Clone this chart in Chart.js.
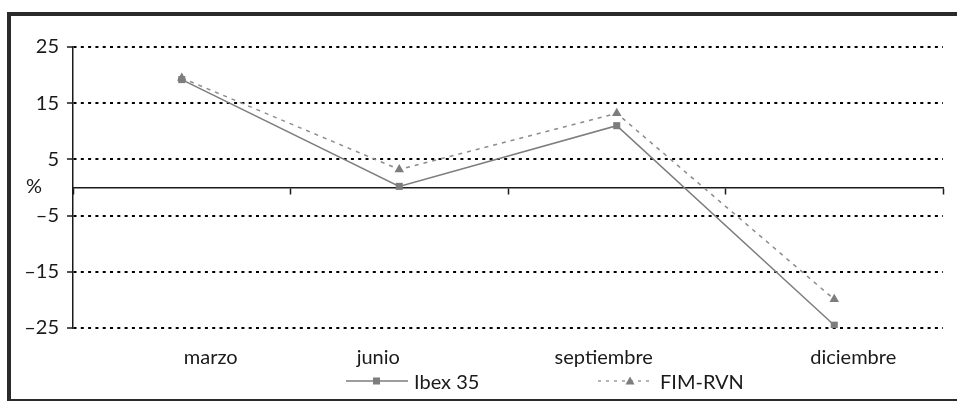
<!DOCTYPE html>
<html>
<head>
<meta charset="utf-8">
<script src="https://cdn.jsdelivr.net/npm/chart.js@4.4.1/dist/chart.umd.min.js"></script>
<style>
  html, body { margin: 0; padding: 0; background: #fff; }
  body { width: 957px; height: 401px; overflow: hidden; position: relative; }
  /* framed box, open on the right side */
  .frame {
    position: absolute; left: 7px; top: 12px;
    width: 960px; height: 383px;
    border: 4px solid #2b2b2b; border-right: none;
  }
  .frame canvas#chart { position: absolute; left: 0; top: 0; }
  .legend { position: absolute; top: 353px; left: 0; }
  .legend .item {
    position: absolute; top: 0; display: flex; align-items: center;
    font: 20px Lato, "Open Sans", sans-serif; color: #1a1a1a; white-space: nowrap;
  }
  .legend .item canvas { margin-right: 6px; }
</style>
</head>
<body>
<div class="frame">
  <canvas id="chart" width="946" height="383"></canvas>
  <div class="legend" id="legend"></div>
</div>
<script>
// quarterly returns, %
const months = ['marzo', 'junio', 'septiembre', 'diciembre'];
const ibex35 = [19.2, 0.2, 11.0, -24.5];
const fimRvn = [19.5, 3.2, 13.2, -19.9];
const yTicks = [-25, -15, -5, 5, 15, 25];
const seriesNames = ['Ibex 35', 'FIM-RVN'];

const FONT = 'Lato, "Open Sans", sans-serif';
const INK = '#1a1a1a';
const GREY = '#7d7d7d';

// the month names sit a little off the category centres
const monthShift = [29, -21, -13, 19];
// where each legend entry starts, inside the frame
const legendLeft = [335, 587];

// small line + marker swatch for the legend
function legendIcon(dashed) {
  const c = document.createElement('canvas');
  c.width = dashed ? 56 : 62; c.height = 12;
  const g = c.getContext('2d');
  g.strokeStyle = dashed ? '#9a9a9a' : GREY;
  g.lineWidth = 1.5;
  if (dashed) g.setLineDash([3, 5]);
  g.beginPath();
  g.moveTo(0, 6);
  g.lineTo(c.width, 6);
  g.stroke();
  g.fillStyle = GREY;
  if (!dashed) {
    g.fillRect(27, 2.5, 7, 7);
  } else {
    g.beginPath();
    g.moveTo(32, 1.5); g.lineTo(36.5, 9.5); g.lineTo(27.5, 9.5);
    g.closePath(); g.fill();
  }
  return c;
}

function buildLegend() {
  const box = document.getElementById('legend');
  seriesNames.forEach(function(name, i) {
    const item = document.createElement('div');
    item.className = 'item';
    item.style.left = legendLeft[i] + 'px';
    item.appendChild(legendIcon(i === 1));
    item.appendChild(document.createTextNode(name));
    box.appendChild(item);
  });
}

// "%" unit beside the zero line and the month names under the plot
const axisText = {
  id: 'axisText',
  afterDraw(chart) {
    const ctx = chart.ctx;
    const x = chart.scales.x;
    const y = chart.scales.y;
    ctx.save();
    ctx.font = '20px ' + FONT;
    ctx.fillStyle = INK;
    ctx.textAlign = 'center';
    ctx.textBaseline = 'middle';
    ctx.fillText('%', 23, y.getPixelForValue(0) - 1);
    months.forEach(function(m, i) {
      ctx.fillText(m, x.getPixelForValue(i) + monthShift[i], chart.chartArea.bottom + 30);
    });
    ctx.restore();
  }
};

new Chart(document.getElementById('chart'), {
  type: 'line',
  data: {
    labels: months,
    datasets: [
      {
        label: seriesNames[0],
        data: ibex35,
        borderColor: GREY,
        borderWidth: 1.5,
        pointStyle: 'rect',
        pointRadius: 5,
        pointBackgroundColor: GREY,
        pointBorderWidth: 0,
        tension: 0
      },
      {
        label: seriesNames[1],
        data: fimRvn,
        borderColor: '#8c8c8c',
        borderWidth: 1.5,
        borderDash: [4, 5],
        pointStyle: 'triangle',
        pointRadius: 5.5,
        pointBackgroundColor: GREY,
        pointBorderWidth: 0,
        tension: 0
      }
    ]
  },
  options: {
    responsive: false,
    animation: false,
    layout: { padding: { left: 6, right: 14, top: 31, bottom: 71 } },
    plugins: {
      tooltip: { enabled: false },
      legend: { display: false }
    },
    scales: {
      // zero line, with ticks between the quarters
      x: {
        type: 'category',
        position: { y: 0 },
        offset: true,
        grid: {
          offset: true,
          drawOnChartArea: false,
          drawTicks: true,
          tickLength: 6,
          tickWidth: 1.5,
          tickColor: INK
        },
        border: { display: true, color: INK, width: 1.5 },
        ticks: { display: false }
      },
      y: {
        min: -25,
        max: 25,
        afterBuildTicks: function(scale) {
          scale.ticks = yTicks.map(function(v) { return { value: v }; });
        },
        afterFit: function(scale) { scale.width = 56; },
        grid: {
          color: '#000',
          lineWidth: 2,
          tickLength: 6,
          tickColor: INK,
          tickWidth: 1.5,
          tickBorderDash: []
        },
        border: { display: true, color: INK, width: 1.5, dash: [3, 4.3] },
        ticks: {
          padding: 8,
          color: INK,
          font: { family: FONT, size: 20 },
          callback: function(v) { return v < 0 ? '\u2013' + Math.abs(v) : String(v); }
        }
      }
    }
  },
  plugins: [axisText]
});

buildLegend();
</script>
</body>
</html>
